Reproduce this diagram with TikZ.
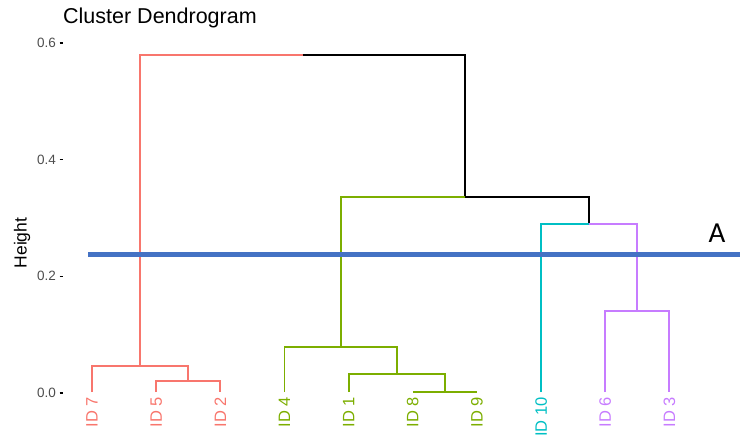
\documentclass[tikz,border=0pt]{standalone}
\usepackage{fontspec}
\setmainfont{Liberation Sans}
\newfontfamily\annofont{Carlito}
\definecolor{cRed}{HTML}{F8766D}
\definecolor{cGreen}{HTML}{7CAE00}
\definecolor{cCyan}{HTML}{00BFC4}
\definecolor{cPurple}{HTML}{C77CFF}
\definecolor{tickgrey}{HTML}{4D4D4D}
\definecolor{cutblue}{RGB}{68,114,196}
\begin{document}
\begin{tikzpicture}[x=1pt,y=-1pt,
  branch/.style={line width=1.9pt},
  leaflab/.style={rotate=90,anchor=east,inner sep=0pt,font=\fontsize{16.5}{18}\selectfont},
  ticklab/.style={anchor=east,inner sep=0pt,text=tickgrey,font=\fontsize{13.5}{15}\selectfont},
  tickmark/.style={line width=1.1pt,black},
  cutline/.style={line width=5pt,cutblue}]
\useasboundingbox (0,0) rectangle (740,437);

% title and axis
\node[anchor=base west,inner sep=0pt,font=\fontsize{21.5}{24}\selectfont] (title) at (63,23) {Cluster Dendrogram};
\node[rotate=90,inner sep=0pt,font=\fontsize{17.5}{20}\selectfont] (ylab) at (22,243) {Height};
\foreach \v/\y in {0.6/43,0.4/159.7,0.2/276.3,0.0/393}{
  \node[ticklab] (tk\v) at (56,\y) {\v};
  \draw[tickmark] (59.5,\y) -- (63,\y);
}

% leaves
\coordinate (l7)  at (92.0,392);
\coordinate (l5)  at (156.2,392);
\coordinate (l2)  at (220.3,392);
\coordinate (l4)  at (284.5,392);
\coordinate (l1)  at (348.6,392);
\coordinate (l8)  at (412.8,392);
\coordinate (l9)  at (476.9,392);
\coordinate (l10) at (541.1,392);
\coordinate (l6)  at (605.2,392);
\coordinate (l3)  at (669.4,392);

% merge points
\coordinate (m52)  at (188.3,381);
\coordinate (mR)   at (140.1,366);
\coordinate (m89)  at (444.8,392);
\coordinate (m189) at (396.7,374);
\coordinate (mG)   at (340.6,347);
\coordinate (m63)  at (637.3,311);
\coordinate (mT)   at (589.2,224);
\coordinate (mGT)  at (464.9,197);
\coordinate (root) at (302.5,55);

% red cluster
\begin{scope}[branch,cRed]
  \draw (l5) |- (m52) -| (l2);
  \draw (l7) |- (mR) -| (m52);
  \draw (mR) |- (root);
\end{scope}
% upper black links
\begin{scope}[branch,black]
  \draw (root) -| (mGT);
  \draw (mGT) -| (mT);
\end{scope}
% green cluster
\begin{scope}[branch,cGreen]
  \draw (l8) -- (m89) -- (l9);
  \draw (l1) |- (m189) -| (m89);
  \draw (l4) |- (mG) -| (m189);
  \draw (mG) |- (mGT);
\end{scope}
% cyan cluster
\draw[branch,cCyan] (l10) |- (mT);
% purple cluster
\begin{scope}[branch,cPurple]
  \draw (mT) -| (m63);
  \draw (l6) |- (m63) -| (l3);
\end{scope}

% leaf labels
\node[leaflab,text=cRed]    (t7)  at (92.0,397)  {ID 7};
\node[leaflab,text=cRed]    (t5)  at (156.2,397) {ID 5};
\node[leaflab,text=cRed]    (t2)  at (220.3,397) {ID 2};
\node[leaflab,text=cGreen]  (t4)  at (284.5,397) {ID 4};
\node[leaflab,text=cGreen]  (t1)  at (348.6,397) {ID 1};
\node[leaflab,text=cGreen]  (t8)  at (412.8,397) {ID 8};
\node[leaflab,text=cGreen]  (t9)  at (476.9,397) {ID 9};
\node[leaflab,text=cCyan]   (t10) at (541.1,397) {ID 10};
\node[leaflab,text=cPurple] (t6)  at (605.2,397) {ID 6};
\node[leaflab,text=cPurple] (t3)  at (669.4,397) {ID 3};

% cut line
\coordinate (cutL) at (88,254);
\coordinate (cutR) at (740,254);
\draw[cutline] (cutL) -- (cutR);
\node[inner sep=0pt,font=\annofont\fontsize{29}{32}\selectfont] (cutA) at (717,233) {A};
\end{tikzpicture}
\end{document}
